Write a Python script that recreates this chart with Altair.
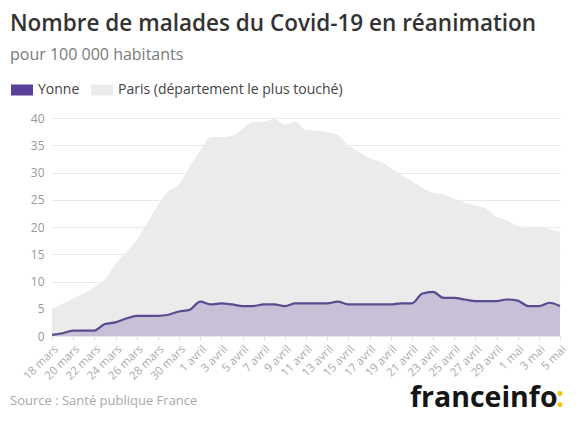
import altair as alt
import pandas as pd

# ---- data ----
mars_days = list(range(18, 32))
avril_days = list(range(1, 31))
mai_days = list(range(1, 6))
dates = ([f"{d} mars" for d in mars_days] + [f"{d} avril" for d in avril_days]
         + [f"{d} mai" for d in mai_days])

yonne = [0.2, 0.5, 1.0, 1.0, 1.0, 2.2, 2.5, 3.2, 3.7, 3.7,
         3.7, 3.9, 4.5, 4.8, 6.3, 5.8, 6.0, 5.8, 5.5, 5.5,
         5.8, 5.8, 5.5, 6.0, 6.0, 6.0, 6.0, 6.3, 5.8, 5.8,
         5.8, 5.8, 5.8, 6.0, 6.0, 7.8, 8.1, 7.0, 7.0, 6.7,
         6.4, 6.4, 6.4, 6.7, 6.5, 5.5, 5.5, 6.1, 5.5]
paris = [5.0, 5.9, 6.9, 7.8, 9.0, 10.4, 13.2, 15.3, 17.6, 20.8,
         24.0, 26.5, 27.8, 31.0, 34.0, 36.5, 36.5, 36.7, 38.0, 39.2,
         39.3, 39.8, 38.8, 39.3, 37.8, 37.7, 37.4, 36.9, 35.0, 33.8,
         32.6, 32.0, 30.8, 29.6, 28.4, 27.2, 26.3, 26.0, 25.2, 24.5,
         23.9, 23.4, 21.9, 21.2, 20.2, 20.1, 20.1, 19.7, 19.1]

YONNE = "Yonne"
PARIS = "Paris (département le plus touché)"
series_names = [YONNE, PARIS]
colors = ["#5b3f99", "#ebebeb"]

tick_labels = dates[::2]
y_ticks = [0, 5, 10, 15, 20, 25, 30, 35, 40]

df = pd.DataFrame({
    "date": dates * 2,
    "series": [YONNE] * len(dates) + [PARIS] * len(dates),
    "value": yonne + paris,
})

FONT = "Open Sans"

W, H = 508, 218

x = alt.X("date:O", sort=dates,
          scale=alt.Scale(type="point", padding=0, domain=dates),
          axis=alt.Axis(title=None, values=tick_labels, labelAngle=-45,
                        labelFontSize=11.5, labelColor="#aaaaaa", labelFont=FONT,
                        domain=False, ticks=True, tickSize=4, tickColor="#e0e0e0",
                        labelPadding=3, labelOverlap=False, grid=False))
y = alt.Y("value:Q", scale=alt.Scale(domain=[0, 40], nice=False),
          axis=alt.Axis(title=None, values=y_ticks, labelFontSize=12,
                        labelColor="#999999", labelFont=FONT, domain=False,
                        ticks=False, labelPadding=8, gridColor="#e9e9e9"))

color = alt.Color("series:N",
                  scale=alt.Scale(domain=series_names, range=colors),
                  legend=alt.Legend(title=None, orient="none", direction="horizontal",
                                    legendX=-41, legendY=-39,
                                    symbolType="M-1,-0.5H1V0.5H-1Z",
                                    symbolSize=484, symbolStrokeWidth=0,
                                    symbolOpacity=1,
                                    labelOffset=5, labelFontSize=14,
                                    labelLimit=400,
                                    labelColor="#444444", labelFont=FONT,
                                    columnPadding=11, padding=0))

base = alt.Chart(df)

paris_area = base.transform_filter(alt.datum.series == PARIS).mark_area(
    interpolate="monotone", fillOpacity=1).encode(x=x, y=y, color=color)
yonne_area = base.transform_filter(alt.datum.series == YONNE).mark_area(
    interpolate="monotone", fillOpacity=0.25).encode(x=x, y=y, color=color)
yonne_line = base.transform_filter(alt.datum.series == YONNE).mark_line(
    interpolate="monotone", color="#5a4a8f", strokeWidth=2.2).encode(x=x, y=y)


def txt(s, px, py, size, color, weight="normal", font=FONT):
    return alt.Chart(pd.DataFrame({"t": [s]})).mark_text(
        align="left", baseline="alphabetic", fontSize=size, color=color,
        fontWeight=weight, font=font).encode(
        text="t:N", x=alt.value(px - 52), y=alt.value(py - 118))


title = txt("Nombre de malades du Covid-19 en réanimation", 10, 31, 22.5, "#333333", 600)
subtitle = txt("pour 100 000 habitants", 10, 60, 16, "#7a7a7a")
source = txt("Source : Santé publique France", 10, 405, 13, "#a8a8a8")
logo = txt("franceinfo", 410, 407, 28.5, "#151515", "bold")
logo_colon = txt(":", 556, 407, 28.5, "#f5c400", "bold")

chart = alt.layer(paris_area, yonne_area, yonne_line, title, subtitle, source,
                  logo, logo_colon).properties(
    width=W, height=H,
    autosize=alt.AutoSizeParams(type="none"),
    padding={"left": 44, "top": 110, "right": 10, "bottom": 82},
).configure_view(stroke=None)

chart.save("out.html", embed_options={"renderer": "svg", "actions": False})
